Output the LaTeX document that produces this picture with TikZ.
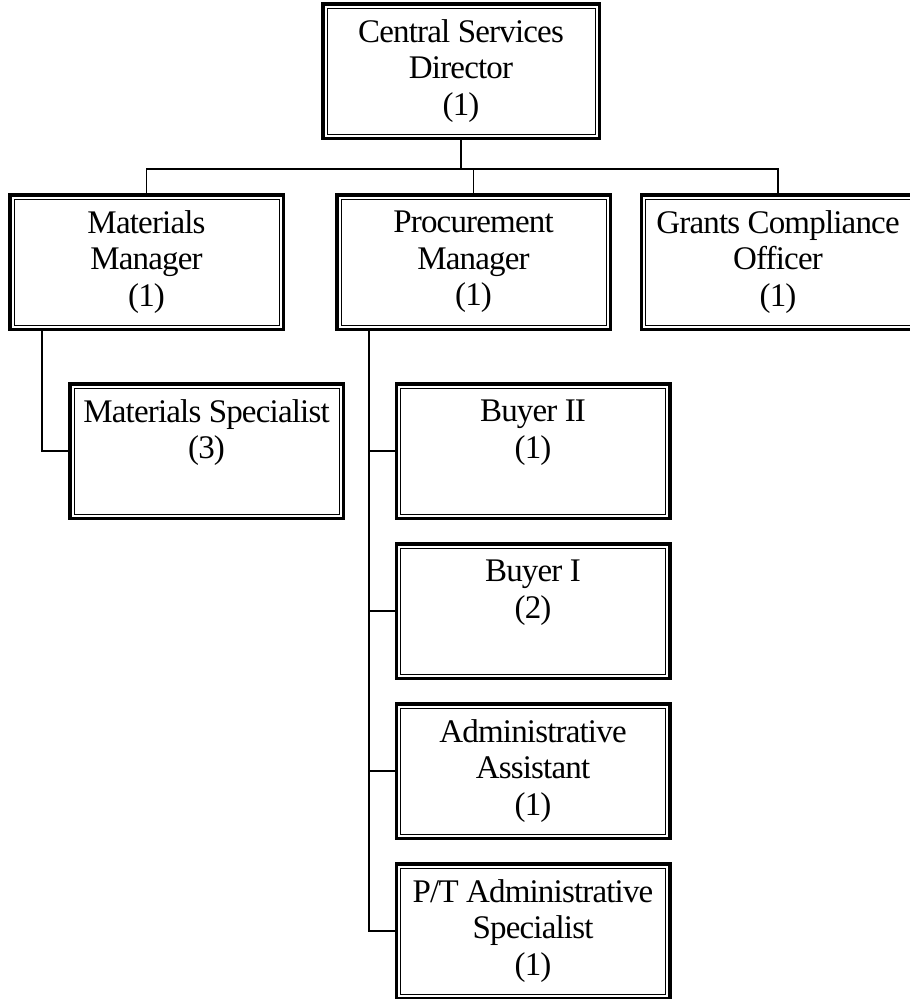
\documentclass[tikz,border=0pt]{standalone}
\usepackage{fontspec}
\setmainfont[LetterSpace=-2.5]{Liberation Serif}
\usetikzlibrary{positioning}
\tikzset{%
    post/.style={draw,line width=3.5pt,minimum width=273.5pt,minimum height=134.5pt,
        inner sep=0pt,align=center,font=\fontsize{33}{36.5}\selectfont},
    inner/.style={line width=1pt},
    conn/.style={line width=1.3pt}
}

\begin{document}
\begin{tikzpicture}[x=1pt,y=-1pt,node distance=22pt]
            \useasboundingbox (0,0) rectangle (910,999);
            \node [post,minimum width=276.5pt] (dir) at (461,71) {Central Services\\Director\\(1)};
            \node [post] (mat) at (146.5,262) {Materials\\Manager\\(1)};
            \node [post] (proc) at (473.5,262) {Procurement\\Manager\\(1)};
            \node [post] (grant) at (778,262) {Grants Compliance\\Officer\\(1)};
            \node [post] (matsp) at (206.5,451) {Materials Specialist\\(3)\\\phantom{(1)}};
            \node [post] (buy2) at (533,451) {Buyer II\\(1)\\\phantom{(1)}};
            \node [post,below= of buy2] (buy1) {Buyer I\\(2)\\\phantom{(1)}};
            \node [post,below= of buy1] (asst) {Administrative\\Assistant\\(1)};
            \node [post,below= of asst] (ptspec) {P/T Administrative\\Specialist\\(1)};
            %%%%%
            \foreach \n in {dir,mat,proc,grant,matsp,buy2,buy1,asst,ptspec}
            \draw[inner] ([shift={(6pt,6pt)}]\n.south west) rectangle ([shift={(-6pt,-6pt)}]\n.north east);
            %%%%%
            \coordinate (bar) at (461,169);
            \coordinate (matline) at ([xshift=-104.5pt]mat.south);
            \coordinate (procline) at ([xshift=-104.5pt]proc.south);
            \draw[conn] (dir.south) -- (bar);
            \draw[conn] (mat.north) |- (grant.north |- bar) -- (grant.north);
            \draw[conn] (proc.north) -- (proc.north |- bar);
            \draw[conn] (matline) |- (matsp.west);
            \draw[conn] (procline) |- (ptspec.west);
            \foreach \n in {buy2,buy1,asst}
            \draw[conn] (\n.west) -- (\n.west -| procline);
\end{tikzpicture}
\end{document}
